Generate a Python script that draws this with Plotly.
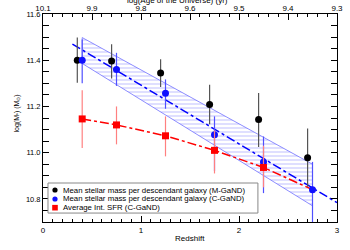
import plotly.graph_objects as go

# ---- data ----
z_m = [0.35, 0.70, 1.20, 1.70, 2.20, 2.70]
m_mgand = [11.40, 11.397, 11.345, 11.208, 11.143, 10.978]
m_mgand_hi = [11.498, 11.469, 11.404, 11.294, 11.258, 11.105]
m_mgand_lo = [11.302, 11.321, 11.284, 11.123, 11.025, 10.853]

z_c = [0.40, 0.75, 1.25, 1.75, 2.25, 2.75]
m_cgand = [11.40, 11.36, 11.257, 11.077, 10.96, 10.84]
m_cgand_hi = [11.49, 11.432, 11.317, 11.157, 11.07, 10.96]
m_cgand_lo = [11.30, 11.289, 11.190, 10.920, 10.825, 10.70]

z_sfr = [0.40, 0.75, 1.25, 1.75, 2.25]
m_sfr = [11.146, 11.12, 11.073, 11.01, 10.936]
m_sfr_hi = [11.27, 11.20, 11.157, 11.096, 11.03]
m_sfr_lo = [11.02, 11.036, 10.984, 10.91, 10.85]

z_sfr_line = [0.40, 0.75, 1.25, 1.75, 2.25, 2.75]
m_sfr_line = [11.146, 11.12, 11.073, 11.01, 10.936, 10.84]

z_fit = [0.30, 3.00]
m_fit = [11.47, 10.784]

z_band = [0.40, 2.75]
band_hi = [11.498, 10.95]
band_lo = [11.386, 10.77]

top_tick_z = [0, 0.5, 1, 1.5, 2, 2.5, 3]
top_tick_labels = ["10.1", "9.9", "9.8", "9.6", "9.5", "9.4", "9.3"]

legend_names = [
    "Mean stellar mass per descendant galaxy (M-GaND)",
    "Mean stellar mass per descendant galaxy (C-GaND)",
    "Average Int. SFR (C-GaND)",
]
legend_colors = ["black", "#1010ff", "#ff0000"]
legend_symbols = ["circle", "circle", "square"]

def err(v, hi, lo):
    return [h - x for h, x in zip(hi, v)], [x - l for x, l in zip(v, lo)]

FONT = "Liberation Sans, Arial, sans-serif"
fig = go.Figure()

# hatched band
fig.add_trace(go.Scatter(
    x=z_band + z_band[::-1] + [z_band[0]],
    y=band_hi + band_lo[::-1] + [band_hi[0]],
    mode="lines", fill="toself",
    line=dict(color="#7070ff", width=0.8),
    fillcolor="rgba(0,0,0,0)",
    fillpattern=dict(shape="-", fgcolor="#6060ff", bgcolor="rgba(255,255,255,0)", size=4, solidity=0.2),
    showlegend=False, hoverinfo="skip"))

fig.add_trace(go.Scatter(x=z_fit, y=m_fit, mode="lines",
                         line=dict(color="#0000ff", width=1.5, dash="dashdot"),
                         showlegend=False))
fig.add_trace(go.Scatter(x=z_sfr_line, y=m_sfr_line, mode="lines",
                         line=dict(color="#ff0000", width=1.5, dash="dashdot"),
                         showlegend=False))

p, m = err(m_mgand, m_mgand_hi, m_mgand_lo)
fig.add_trace(go.Scatter(x=z_m, y=m_mgand, mode="markers", name=legend_names[0],
                         marker=dict(color=legend_colors[0], size=7, symbol="circle"),
                         error_y=dict(type="data", array=p, arrayminus=m, color="#555555",
                                      thickness=1.2, width=0), showlegend=False))
p, m = err(m_cgand, m_cgand_hi, m_cgand_lo)
fig.add_trace(go.Scatter(x=z_c, y=m_cgand, mode="markers", name=legend_names[1],
                         marker=dict(color=legend_colors[1], size=7, symbol="circle"),
                         error_y=dict(type="data", array=p, arrayminus=m, color="#5050ff",
                                      thickness=1.2, width=0), showlegend=False))
p, m = err(m_sfr, m_sfr_hi, m_sfr_lo)
fig.add_trace(go.Scatter(x=z_sfr, y=m_sfr, mode="markers", name=legend_names[2],
                         marker=dict(color=legend_colors[2], size=7, symbol="square"),
                         error_y=dict(type="data", array=p, arrayminus=m, color="#ff8080",
                                      thickness=1.2, width=0), showlegend=False))

# invisible trace to activate top axis
fig.add_trace(go.Scatter(x=[0, 3], y=[11.0, 11.0], xaxis="x2", mode="markers",
                         marker=dict(opacity=0), showlegend=False, hoverinfo="skip"))

# ---- compact legend (box, symbols, labels) ----
shapes = [dict(type="rect", xref="paper", yref="paper", x0=0.017, x1=0.731, y0=0.043, y1=0.1875,
               fillcolor="white", line=dict(color="#888888", width=1), layer="above")]
annotations = []
row_y = [0.1538, 0.1106, 0.0688]
mx = 0.0408
for name, col, sym, yy in zip(legend_names, legend_colors, legend_symbols, row_y):
    r = 2.6 if sym == "circle" else 2.8
    shapes.append(dict(type="circle" if sym == "circle" else "rect",
                       xref="paper", yref="paper", xsizemode="pixel", ysizemode="pixel",
                       xanchor=mx, yanchor=yy, x0=-r, x1=r, y0=-r, y1=r,
                       fillcolor=col, line=dict(width=0), layer="above"))
    annotations.append(dict(text=name, xref="paper", yref="paper", x=0.0612, y=yy,
                            xanchor="left", yanchor="middle", showarrow=False,
                            font=dict(size=7.8, family=FONT)))

annotations += [
    dict(text="log(Age of the Universe) (yr)", xref="paper", yref="paper",
         x=0.459, y=1.064, xanchor="center", yanchor="middle",
         showarrow=False, font=dict(size=8)),
    dict(text="Redshift", xref="paper", yref="paper",
         x=0.5, y=-0.0817, xanchor="center", yanchor="middle",
         showarrow=False, font=dict(size=8)),
    dict(text="log(M<sub>*</sub>) (M<sub>⊙</sub>)", xref="paper", yref="paper",
         x=-0.0918, y=0.5216, xanchor="center", yanchor="middle", textangle=-90,
         showarrow=False, font=dict(size=7)),
]

fig.update_layout(
    width=350, height=250,
    margin=dict(l=43, r=13, t=14, b=28),
    paper_bgcolor="white", plot_bgcolor="white",
    font=dict(family=FONT, size=8, color="black"),
    showlegend=False,
    xaxis=dict(range=[0, 3], showgrid=False, zeroline=False, automargin=False,
               tickvals=[0, 1, 2, 3], ticks="inside", ticklen=6, tickcolor="black",
               minor=dict(dtick=0.1, ticks="inside", ticklen=3, tickcolor="black"),
               showline=True, linecolor="black", linewidth=1, mirror=True,
               tickfont=dict(size=8)),
    xaxis2=dict(range=[0, 3], overlaying="x", side="top", showgrid=False, zeroline=False,
                automargin=False,
                tickvals=top_tick_z, ticktext=top_tick_labels,
                ticks="inside", ticklen=6, tickcolor="black",
                minor=dict(dtick=0.1, ticks="inside", ticklen=3, tickcolor="black"),
                tickfont=dict(size=8), showline=False),
    yaxis=dict(range=[10.7, 11.6], showgrid=False, zeroline=False, automargin=False,
               tickvals=[10.8, 11.0, 11.2, 11.4, 11.6], ticktext=["10.8", "11.0", "11.2", "11.4", "11.6"],
               ticks="inside", ticklen=6, tickcolor="black",
               minor=dict(dtick=0.05, ticks="inside", ticklen=3, tickcolor="black"),
               showline=True, linecolor="black", linewidth=1, mirror="allticks",
               tickfont=dict(size=7.5)),
    shapes=shapes,
    annotations=annotations,
)

fig.write_html("out.html", config={"displayModeBar": False},
               post_script="document.body.style.margin='0';")
